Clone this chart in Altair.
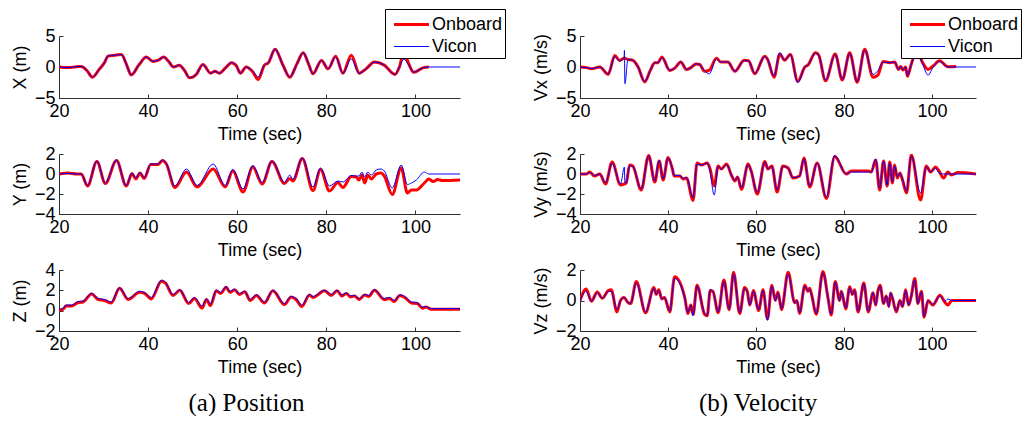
import altair as alt
import pandas as pd

SERIES = ["Onboard", "Vicon"]
COLORS = ["#ff0000", "#0000ff"]
WIDTHS = [3.0, 1.0]
X_TICKS = [20, 40, 60, 80, 100]
X_DOMAIN = [20, 110]

# ---------------- Position X ----------------
X_T = [20, 22, 24, 25, 26.3, 27.5, 29, 30.2, 31, 32.5, 34, 35.2, 36.2, 38, 39.6, 41.1, 42.3, 43.5, 44.6, 45.7,
       47, 48.2, 49.3, 50.8, 52.3, 54, 55, 56, 57.3, 58.7, 59.8, 60.7, 62, 63.4, 64.7, 66.1, 67, 68.5, 70.2, 71.8,
       73.4, 74.8, 76, 77, 78.9, 80.4, 82.1, 83.7, 85.6, 87.4, 88.9, 90.8, 93, 95.4, 96.4, 97.4, 98.5, 99.6, 101.8, 103,
       110]
X_ON = [0, -0.1, 0.05, 0.1, -0.6, -1.65, -0.4, 0.7, 1.75, 1.9, 2.0, 0.3, -1.3, 0.4, 1.6, 0.9, 1.1, 1.6, 0.9, 0.0,
        0.3, -0.6, -1.75, -1.2, 0.4, -1.0, -0.7, -1.0, -0.2, 0.7, 0.2, -1.0, 0.0, -0.7, -2.0, 0.3, 0.7, 2.85, 0.4, -1.65,
        0.5, 2.3, 0.5, -1.1, 1.05, -0.3, 1.75, -1.0, 1.9, -1.0, -0.3, 0.8, 0.3, -1.2, 0.0, 2.4, 0.5, -0.85, -0.1, 0.0,
        None]
X_VI = [0, -0.1, 0.05, 0.1, -0.6, -1.6, -0.4, 0.7, 1.75, 1.9, 2.0, 0.3, -1.25, 0.4, 1.6, 0.9, 1.1, 1.6, 0.9, 0.0,
        0.3, -0.6, -1.7, -1.2, 0.4, -1.0, -0.7, -1.0, -0.2, 0.7, 0.2, -1.0, 0.0, -0.6, -1.6, 0.3, 0.7, 2.9, 0.4, -1.6,
        0.5, 2.3, 0.5, -1.1, 1.05, -0.3, 1.6, -1.0, 1.3, -1.0, -0.3, 0.8, 0.3, -1.2, 0.0, 1.25, 0.3, -0.85, -0.1, 0.0,
        0.0]

# ---------------- Position Y ----------------
Y_T = [20, 22, 24, 25, 26.4, 28.5, 30.4, 32.9, 35.1, 36.4, 37.2, 38.2, 39.1, 40.6, 42.2, 43.2, 44.1, 46, 48.6, 51,
       54.6, 57.3, 59, 61.3, 63.5, 65.6, 67.8, 70.6, 71.8, 72.5, 74.6, 77, 78.7, 80.7, 82.6, 83.7, 85.6, 86.7, 87.3, 88,
       88.6, 89.3, 90.1, 91.2, 92.3, 93, 94.8, 96.8, 98.2, 99.1, 100.2, 102, 103, 104, 105, 106, 110]
Y_ON = [0, 0.1, 0, 0, -1.2, 1.25, -0.95, 1.35, -1.2, 0.05, -0.5, 0.1, -0.45, 0.95, 0.95, 1.35, 1.0, -1.35, 0.2, -1.3,
        0.5, -1.3, 0.3, -1.8, 0.7, -1.0, 1.25, -0.95, -0.45, -0.7, 1.55, -1.65, 0.45, -1.7, -0.85, -1.35, -0.25, -0.3, -0.6, -0.1,
        -0.9, -0.1, -0.5, 0.0, 0.1, -0.2, -2.05, 0.6, -1.9, -1.6, -1.6, -0.9, -0.5, -0.75, -0.55, -0.65, -0.6]
Y_VI = [0, 0.05, 0, 0, -1.15, 1.3, -0.9, 1.4, -1.15, 0.1, -0.4, 0.15, -0.35, 1.0, 1.0, 1.4, 1.05, -1.2, 0.5, -1.15,
        1.0, -1.15, 0.45, -1.5, 0.85, -0.85, 1.3, -0.85, -0.1, -0.55, 1.6, -1.3, 0.6, -1.2, -0.7, -0.8, -0.15, -0.2, -0.2, 0.2,
        -0.3, 0.2, -0.1, 0.4, 0.5, 0.3, -1.4, 0.9, -1.05, -0.9, -0.6, 0.2, 0.0, 0.0, 0.0, 0.0, 0.0]

# ---------------- Position Z ----------------
Z_T = [20, 20.8, 21.6, 22.8, 24.3, 25.4, 27.3, 28.8, 30.2, 31.7, 33.6, 35.5, 38.1, 39.2, 40.7, 43, 43.9, 45.6, 47.1, 49.1,
       50.4, 52.1, 53.1, 54, 55.3, 56.3, 57.5, 58.4, 59.4, 60.5, 61.7, 62.9, 64.3, 66.1, 68, 70.6, 72.1, 73.2, 74.5, 76.2,
       77, 79.6, 81.1, 82.4, 83.5, 84.5, 85.4, 86.3, 87.4, 88.6, 89.5, 90.8, 93, 94.2, 95.2, 96.5, 97.6, 99.1, 100.4, 101.6,
       102.3, 103.6, 110]
Z_ON = [0.05, 0.1, 0.45, 0.45, 0.8, 0.85, 1.65, 1.1, 1.0, 0.75, 2.2, 1.1, 1.8, 1.7, 1.15, 2.9, 2.7, 1.5, 2.0, 0.7,
        1.2, 0.25, 1.1, 0.5, 1.95, 1.7, 2.3, 1.8, 2.05, 1.6, 1.85, 1.0, 1.5, 0.75, 1.95, 0.6, 1.35, 1.1, 0.4, 1.55,
        1.3, 1.95, 1.5, 1.95, 1.45, 1.7, 1.35, 1.45, 1.1, 1.55, 1.4, 2.0, 1.1, 1.2, 0.9, 1.5, 1.3, 0.75, 0.7, 0.25,
        0.35, 0.15, 0.15]
Z_VI = [0.15, 0.2, 0.55, 0.55, 0.9, 0.95, 1.7, 1.2, 1.1, 0.85, 2.25, 1.2, 1.9, 1.8, 1.3, 3.0, 2.8, 1.6, 2.05, 0.8,
        1.3, 0.45, 1.15, 0.65, 2.0, 1.8, 2.35, 1.9, 2.1, 1.7, 1.9, 1.1, 1.55, 0.85, 2.0, 0.7, 1.4, 1.2, 0.55, 1.6,
        1.4, 2.0, 1.6, 2.0, 1.55, 1.75, 1.45, 1.5, 1.2, 1.6, 1.5, 2.05, 1.2, 1.3, 1.0, 1.55, 1.4, 0.85, 0.8, 0.35,
        0.4, 0.2, 0.2]

# ---------------- Velocity Vx ----------------
VX_T = [20, 21.5, 22.6, 24.5, 26.4, 27.9, 29, 30.0, 30.1, 30.2,
        30.9, 32, 33.2, 34.7, 36, 37, 37.7, 38.6, 40.4, 41.5,
        42.9, 44.2, 45.2, 46.4, 47.2, 48.3, 49.4, 51, 52, 53.6,
        55.2, 57.3, 58.3, 59.7, 62, 62.6, 64.1, 65.4, 66.5, 67.8,
        69.5, 71.1, 71.8, 73.5, 74.2, 75.8, 78, 79.6, 81.3, 83,
        84.7, 86.6, 87.7, 88.9, 90.4, 91.5, 92.4, 92.9, 93.4, 94,
        94.4, 95.3, 96.6, 97.8, 99.1, 100.3, 101.7, 103.6, 105.5, 110]
VX_ON = [0, -0.1, -0.3, 0.0, -1.2, 1.85, 1.05, 1.4, 1.4, 1.4,
         1.2, 1.1, 0.0, -2.4, -0.5, 0.7, 0.7, 1.6, -0.55, -0.2,
         0.8, -0.4, -0.1, 0.5, 0.4, -0.7, -0.5, 1.4, 0.8, 0.8,
         -0.7, 1.1, 1.0, -1.1, 1.75, 1.3, -1.65, 2.1, 1.1, 2.0,
         -2.3, 0.0, 0.3, 2.3, 2.0, -2.2, 2.1, -2.1, 2.3, -2.45,
         2.85, -1.65, -1.3, 0.9, 0.7, 0.8, -0.4, 0.1, -0.5, 0.0,
         -1.5, 0.5, 2.6, 0.8, -0.4, 0.2, 1.0, 0.05, 0.1, None]
VX_VI = [0, -0.1, -0.25, 0.0, -1.1, 1.7, 1.0, 1.4, 2.7, -2.7,
         1.2, 1.1, 0.0, -2.3, -0.5, 0.7, 0.7, 1.5, -0.5, -0.2,
         0.8, -0.35, -0.1, 0.5, 0.4, -0.6, -1.1, 1.3, 0.8, 0.8,
         -0.7, 1.0, 1.0, -1.0, 1.7, 1.3, -1.5, 2.3, 1.1, 2.0,
         -2.5, 0.0, 0.3, 2.2, 2.0, -2.1, 2.0, -2.0, 2.2, -2.35,
         2.7, -1.2, -0.6, 0.8, 0.7, 0.8, -0.4, 0.1, -0.5, 0.0,
         -1.4, 0.5, 2.4, 0.6, -1.3, 0.0, 0.9, 0.0, 0.0, 0.0]

# ---------------- Velocity Vy ----------------
VY_T = [20, 21.5, 22.2, 23.3, 24.5, 25.8, 27.3, 29.2, 30.1, 30.2,
        30.5, 31.3, 32, 33.9, 35.6, 37, 38, 38.9, 40, 41,
        41.4, 42.7, 43.4, 44.2, 45.7, 46.6, 47.6, 48.9, 49.5, 50.5,
        51.4, 52.1, 53.3, 54.4, 55.2, 55.8, 56.7, 58.2, 58.9, 60.3,
        62, 62.7, 63.6, 64.8, 66.1, 67.3, 68.4, 69.9, 70.9, 72.2,
        73.9, 76, 77.9, 80.5, 81.7, 85.5, 86.2, 87.2, 88.1, 89,
        89.8, 90.4, 91, 91.5, 92.1, 92.7, 93.3, 94.2, 95.3, 97.4,
        98.7, 99.7, 100.8, 101.6, 102.6, 103.6, 104.4, 105.9, 110]
VY_ON = [0, 0, 0.2, -0.2, 0.0, -1.0, 1.2, -1.1, -1.0, -1.0,
         -0.9, 0.9, 0.8, -1.6, 1.85, -0.8, 1.3, -0.6, 1.65, 0.5,
         -0.2, -0.2, -0.5, -0.4, -2.65, 1.1, 0.9, 1.1, 0.6, -1.2,
         0.8, 0.5, 1.0, -0.1, -0.7, -0.3, -1.55, 1.0, 0.3, -2.0,
         1.25, 0.5, 0.8, -1.8, 0.8, 0.6, -0.4, -0.2, 1.6, -1.3,
         1.1, -2.45, 1.75, 0.0, 0.3, 0.3, 0.2, 1.4, -1.6, 1.3,
         -1.2, 1.2, -0.9, 0.9, -0.4, 0.1, -0.6, -1.9, 1.9, -2.6,
         0.8, 0.2, 0.7, 0.3, -0.4, 0.2, -0.1, 0.15, 0.0]
VY_VI = [0, 0, 0.15, -0.15, 0.0, -0.9, 1.1, -1.0, 0.7, -0.9,
         -0.9, 0.85, 0.75, -1.5, 1.8, -0.7, 1.35, -0.5, 1.6, 0.5,
         -0.15, -0.15, -0.45, -0.35, -2.4, 1.0, 0.9, 1.1, 0.4, -2.1,
         0.75, 0.5, 0.95, -0.1, -0.65, -0.3, -1.4, 0.95, 0.3, -1.85,
         1.2, 0.5, 0.75, -1.6, 0.75, 0.55, -0.35, -0.2, 1.5, -1.2,
         1.1, -2.3, 1.85, 0.0, 0.2, 0.2, 0.2, 1.5, -1.4, 1.3,
         -1.1, 1.1, -0.8, 0.8, -0.3, 0.1, -0.5, -1.7, 1.8, -1.9,
         0.7, 0.2, 0.6, 0.1, 0.0, 0.0, 0.0, 0.0, 0.0]

# ---------------- Velocity Vz ----------------
VZ_T = [20, 21.4, 22.6, 23.9, 25.1, 26.4, 27.1, 28.4, 29.2, 30,
        30.8, 31.5, 32.8, 34.9, 36.8, 37.3, 37.9, 38.6, 39.2, 40.4,
        41.5, 43.8, 44.5, 45.2, 45.7, 46.6, 48.3, 48.9, 49.6, 50.2,
        51.4, 52.7, 53.9, 54.9, 56.3, 57.4, 58, 58.6, 59.4, 60.6,
        61.6, 62.6, 63.6, 64.4, 65, 65.8, 67.3, 68.8, 69.3, 69.9,
        71.1, 71.8, 72.2, 72.7, 73.7, 75.2, 76.4, 77.1, 78, 79,
        79.4, 80.4, 81.3, 81.9, 82.4, 83.2, 84.5, 85.5, 86.6, 87.2,
        87.7, 88.2, 89, 89.6, 90.2, 90.6, 91.9, 92.7, 93.3, 94,
        94.7, 95.3, 96.1, 96.8, 97.6, 98.2, 99.1, 100.2, 101.8, 102.9,
        103.6, 104.5, 110]
VZ_ON = [0, 0.75, -0.05, 0.55, 0.15, 0.65, 0.7, -0.75, 0.0, 0.2,
         -0.1, -0.2, 1.25, -0.8, 0.85, 0.4, 0.7, 0.1, 0.2, -0.75,
         1.55, 0.2, -0.85, -0.3, -0.9, 1.0, -0.9, -1.0, 0.65, 0.6,
         -0.8, 1.35, -0.6, 1.85, -0.85, 0.85, 0.6, -0.3, 0.65, -0.65,
         0.7, -1.2, 1.0, 0.0, 0.55, -0.6, 1.85, -0.15, 0.0, -0.85,
         1.0, 0.6, 0.8, 0.3, -0.9, 1.9, 0.1, -0.95, 1.25, 0.0,
         0.6, -0.55, 0.9, 0.4, 0.7, -0.75, 1.15, -0.75, 0.5, -0.3,
         0.6, 1.0, -0.2, 0.3, -0.4, 0.5, -0.75, 0.0, -0.4, 0.7,
         -0.3, 0.3, 1.45, -0.2, 0.6, -1.1, 0.0, -0.3, 0.35, -0.1,
         -0.3, 0.0, 0.0]
VZ_VI = [0, 0.6, -0.05, 0.5, 0.15, 0.6, 0.6, -0.6, 0.0, 0.2,
         -0.1, -0.2, 1.15, -0.75, 0.8, 0.4, 0.65, 0.1, 0.2, -0.7,
         1.45, 0.2, -0.8, -0.3, -1.0, 0.95, -0.85, -1.0, 0.7, 0.6,
         -0.75, 1.25, -0.55, 1.75, -0.8, 0.8, 0.6, -0.3, 0.6, -0.6,
         0.65, -1.3, 0.95, 0.0, 0.5, -0.55, 1.75, -0.15, 0.0, -0.8,
         0.95, 0.6, 0.75, 0.3, -0.85, 1.8, 0.1, -0.9, 1.2, 0.0,
         0.6, -0.5, 0.85, 0.4, 0.65, -0.7, 1.1, -0.7, 0.5, -0.3,
         0.6, 0.95, -0.2, 0.3, -0.4, 0.5, -0.7, 0.0, -0.4, 0.65,
         -0.3, 0.3, 1.35, -0.2, 0.55, -1.05, 0.0, -0.25, 0.3, -0.05,
         0.1, 0.0, 0.0]

FONT = "Liberation Sans"
AXIS_COLOR = "#303030"
DASH_GAP = 2000


def caption(text, dx):
    return alt.TitleParams(text=text, orient="bottom", anchor="middle", frame="group",
                           font="Liberation Serif", fontSize=25, fontWeight="normal",
                           color="black", offset=15, dx=dx)


def make_panel(t, on, vi, ytitle, ydomain, yticks, width, height, legend_x=None, title=None):
    rows = []
    for name, vals in zip(SERIES, (on, vi)):
        for ti, vv in zip(t, vals):
            if vv is not None:
                rows.append({"t": ti, "v": vv, "s": name})
    df = pd.DataFrame(rows)

    if legend_x is not None:
        leg = alt.Legend(
            title=None, orient="none", legendX=legend_x, legendY=-27, direction="vertical",
            fillColor="white", strokeColor="black", padding=2, cornerRadius=0,
            symbolType="M-1.5,0H1.5", symbolSize=23.3 * 23.3, symbolOffset=11,
            labelOffset=7, labelFontSize=18, labelFont=FONT, labelColor="black",
            rowPadding=0, labelLimit=300,
        )
    else:
        leg = None

    color = alt.Color("s:N", scale=alt.Scale(domain=SERIES, range=COLORS), legend=leg)
    sw = alt.StrokeWidth("s:N", scale=alt.Scale(domain=SERIES, range=WIDTHS), legend=leg)

    xdash_off = (4 + DASH_GAP) - (height - 4)
    x = alt.X("t:Q", scale=alt.Scale(domain=X_DOMAIN, nice=False, zero=False),
              axis=alt.Axis(values=X_TICKS, format="d", title="Time (sec)", grid=True,
                            gridDash=[4, DASH_GAP], gridDashOffset=xdash_off))
    y = alt.Y("v:Q", scale=alt.Scale(domain=ydomain, nice=False, zero=False),
              axis=alt.Axis(values=yticks, format="d", title=ytitle, grid=True,
                            gridDash=[4, DASH_GAP]))

    base = alt.Chart(df).mark_line(interpolate="monotone", clip=True).encode(
        x=x, y=y, color=color, strokeWidth=sw
    )
    red = base.transform_filter(alt.datum.s == "Onboard")
    blue = base.transform_filter(alt.datum.s == "Vicon")
    out = alt.layer(red, blue).properties(width=width, height=height)
    if title is not None:
        out = out.properties(title=title)
    return out


LW, RW = 401, 396
H = [62, 60, 61]

p1 = make_panel(X_T, X_ON, X_VI, "X (m)", [-5, 5], [-5, 0, 5], LW, H[0], legend_x=326)
p2 = make_panel(Y_T, Y_ON, Y_VI, "Y (m)", [-4, 2], [-4, -2, 0, 2], LW, H[1])
p3 = make_panel(Z_T, Z_ON, Z_VI, "Z (m)", [-2, 4], [-2, 0, 2, 4], LW, H[2],
                title=caption("(a) Position", -13))
p4 = make_panel(VX_T, VX_ON, VX_VI, "Vx (m/s)", [-5, 5], [-5, 0, 5], RW, H[0], legend_x=321)
p5 = make_panel(VY_T, VY_ON, VY_VI, "Vy (m/s)", [-4, 2], [-4, -2, 0, 2], RW, H[1])
p6 = make_panel(VZ_T, VZ_ON, VZ_VI, "Vz (m/s)", [-2, 2], [-2, 0, 2], RW, H[2],
                title=caption("(b) Velocity", -20))

chart = alt.concat(
    p1, p4, p2, p5, p3, p6, columns=2, bounds="flush",
    spacing=alt.RowColnumber(row=56, column=120),
).resolve_scale(
    color="independent", strokeWidth="independent"
).resolve_legend(
    color="independent", strokeWidth="independent"
).properties(
    padding={"left": 3, "top": 0, "right": 0, "bottom": 0}
).configure_view(strokeWidth=0).configure_axis(
    labelFont=FONT, titleFont=FONT, labelFontSize=18, titleFontSize=18,
    titleFontWeight="normal", labelColor="black", titleColor="black",
    domainColor=AXIS_COLOR, domainWidth=1, ticks=False, tickSize=0,
    gridColor=AXIS_COLOR, gridOpacity=1, gridWidth=1,
    labelPadding=4, titlePadding=5, labelOverlap=False, labelFlush=False,
)

chart.save("out.html", embed_options={"renderer": "svg", "actions": False})
